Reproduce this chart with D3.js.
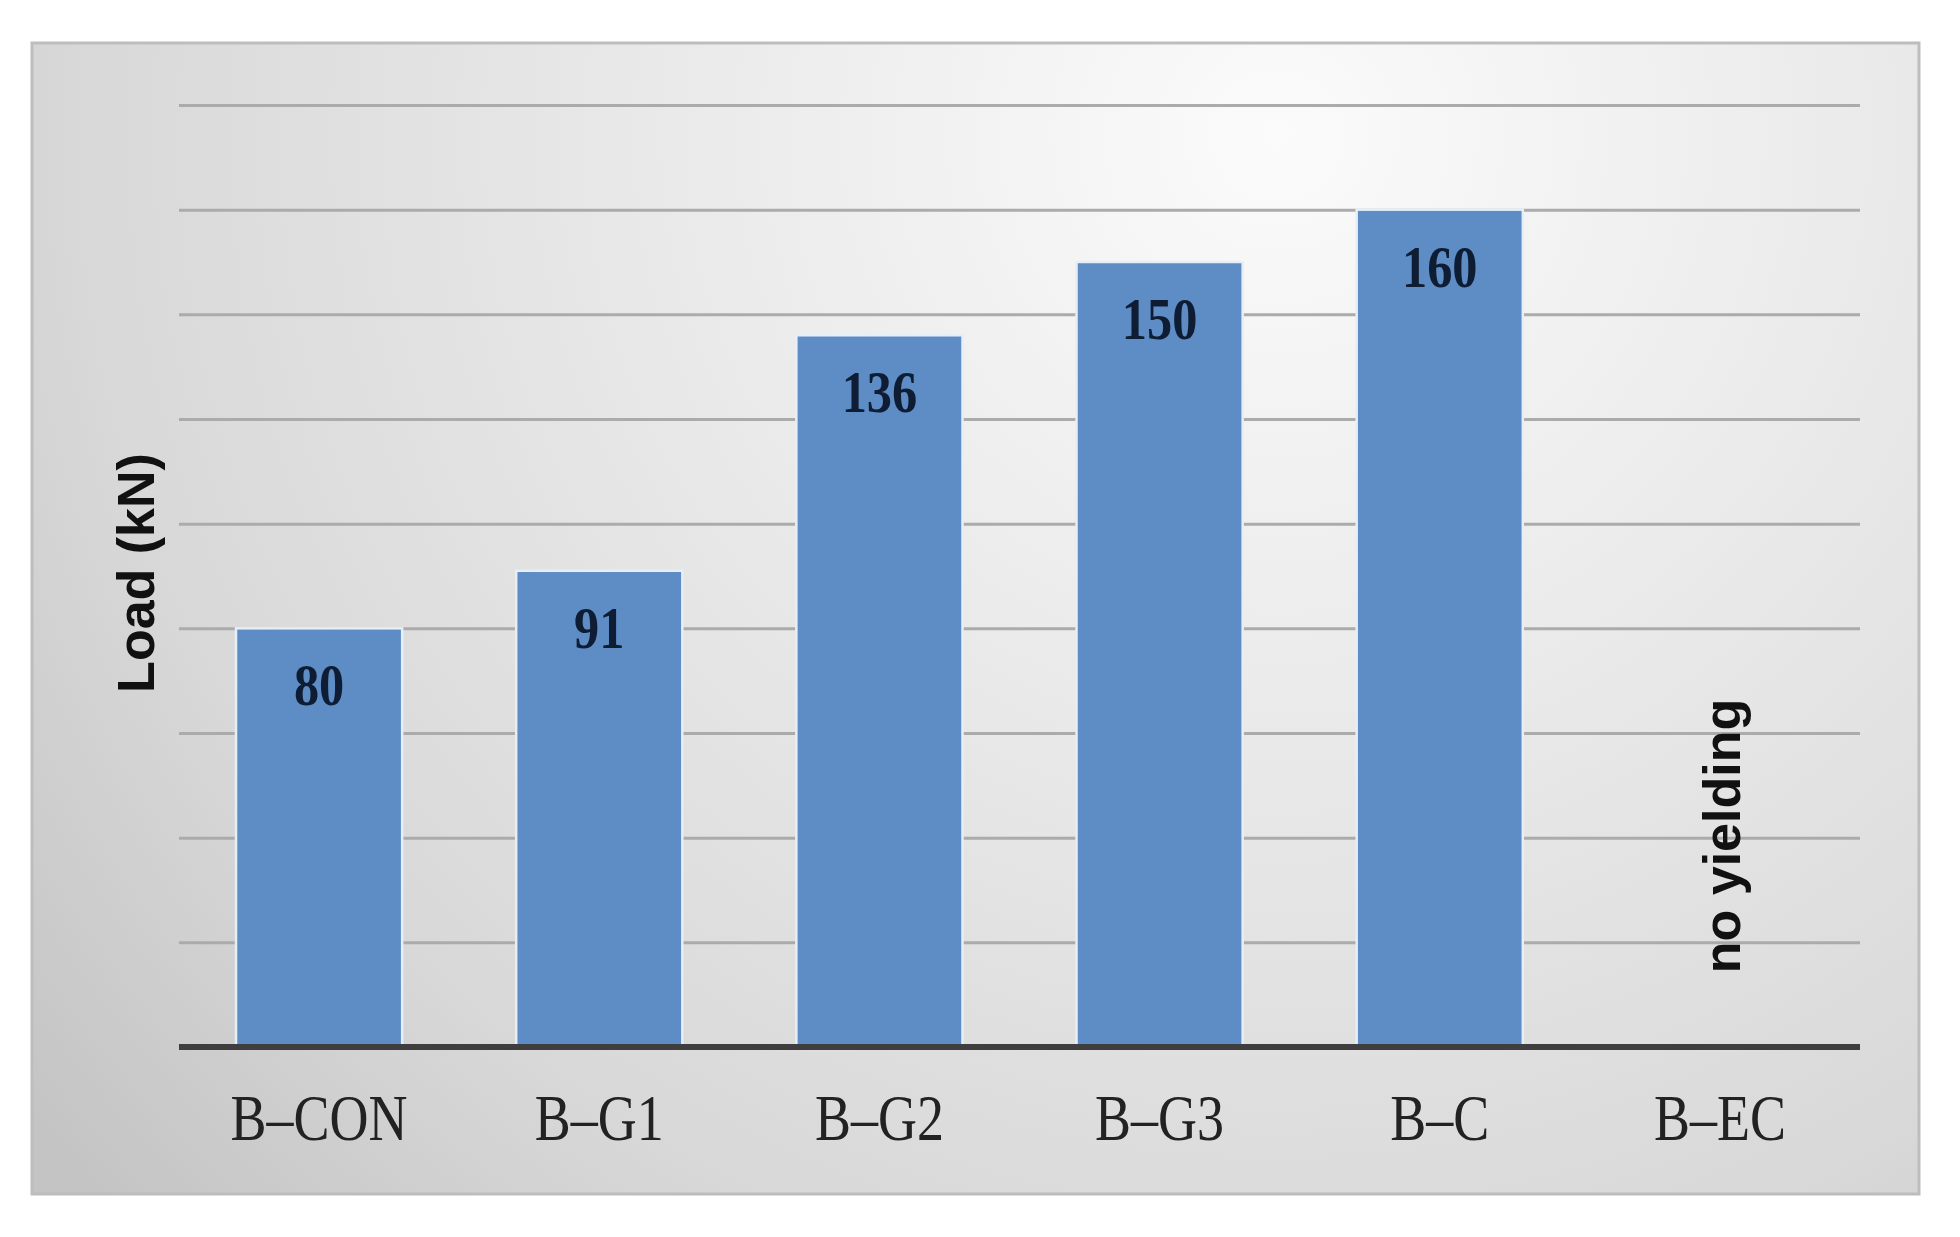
<!DOCTYPE html>
<html lang="en">
<head>
	<meta charset="utf-8">
	<title>Yield load</title>
	<script type="text/javascript" src="https://d3js.org/d3.v7.min.js"></script>
	<style>
		body { margin: 0; background: #fff; }
		.cat text { font-family: "Liberation Serif", "Times New Roman", serif; font-size: 54px; fill: #222; }
		.value { font-family: "Liberation Serif", "Times New Roman", serif; font-size: 53px; font-weight: bold; fill: #0e1c34; }
		.title { font-family: "Liberation Sans", Arial, sans-serif; font-size: 52px; font-weight: bold; fill: #111; }
	</style>
</head>
<body>
	<div id="chart"></div>
	<script type="text/javascript">

		var categories = ["B–CON", "B–G1", "B–G2", "B–G3", "B–C", "B–EC"];
		var loads = [80, 91, 136, 150, 160, null];
		var gridTicks = [20, 40, 60, 80, 100, 120, 140, 160, 180];
		var yTitle = "Load (kN)";
		var note = "no yielding";

		var w = 1960,
		    h = 1237;

		var svg = d3.select("#chart")
			.append("svg")
			.attr("width", w)
			.attr("height", h);

		// panel background
		var defs = svg.append("defs");
		var grad = defs.append("radialGradient")
			.attr("id", "bg")
			.attr("cx", "0.66").attr("cy", "0.08")
			.attr("r", "0.85")
			.attr("gradientTransform", "translate(0.66,0.08) scale(1,1.6) translate(-0.66,-0.08)");
		grad.append("stop").attr("offset", "0").attr("stop-color", "#fbfbfb");
		grad.append("stop").attr("offset", "0.35").attr("stop-color", "#ebebeb");
		grad.append("stop").attr("offset", "0.75").attr("stop-color", "#d8d8d8");
		grad.append("stop").attr("offset", "1").attr("stop-color", "#c4c4c4");

		svg.append("rect")
			.attr("x", 32).attr("y", 43)
			.attr("width", 1887).attr("height", 1151)
			.attr("fill", "url(#bg)")
			.attr("stroke", "#bdbdbd")
			.attr("stroke-width", 3);

		var x = d3.scaleBand()
			.domain(categories)
			.range([179, 1860])
			.paddingInner(0.407)
			.paddingOuter(0.2035);

		var y = d3.scaleLinear()
			.domain([0, 180])
			.range([1047, 105]);

		// gridlines
		var grid = svg.append("g")
			.attr("transform", "translate(179,0)")
			.call(d3.axisLeft(y).tickValues(gridTicks).tickSize(-(1860 - 179)).tickFormat(""));
		grid.select(".domain").remove();
		grid.selectAll("line").attr("stroke", "#ababab").attr("stroke-width", 3);

		// bars
		var data = categories.map(function(c, i) { return {cat: c, v: loads[i]}; });
		var withVal = data.filter(function(d) { return d.v != null; });

		svg.selectAll(".bar")
			.data(withVal)
			.enter()
			.append("rect")
			.attr("class", "bar")
			.attr("x", function(d) { return x(d.cat); })
			.attr("y", function(d) { return y(d.v); })
			.attr("width", x.bandwidth())
			.attr("height", function(d) { return y(0) - y(d.v); })
			.attr("fill", "#5e8dc5")
			.attr("stroke", "#e6eef8")
			.attr("stroke-width", 2.5);

		// value labels (slightly condensed, like the original)
		svg.selectAll(".value")
			.data(withVal)
			.enter()
			.append("text")
			.attr("class", "value")
			.attr("transform", function(d) {
				return "translate(" + (x(d.cat) + x.bandwidth() / 2) + "," + (y(d.v) + 77) + ") scale(0.95,1.1)";
			})
			.attr("text-anchor", "middle")
			.text(function(d) { return d.v; });

		// x axis
		var xa = svg.append("g")
			.attr("class", "cat")
			.attr("transform", "translate(0," + y(0) + ")")
			.call(d3.axisBottom(x).tickSize(0));
		xa.select(".domain").remove();
		xa.selectAll("text")
			.attr("font-size", null).attr("font-family", null).attr("fill", null)
			.attr("y", 0).attr("dy", null)
			.attr("transform", "translate(0,93) scale(1,1.2)");

		svg.append("line")
			.attr("x1", 179).attr("x2", 1860)
			.attr("y1", y(0)).attr("y2", y(0))
			.attr("stroke", "#3e3e3e")
			.attr("stroke-width", 6);

		// y title
		svg.append("text")
			.attr("class", "title")
			.attr("transform", "translate(154,573) rotate(-90)")
			.attr("text-anchor", "middle")
			.text(yTitle);

		// note on the empty column
		var emptyCat = data.filter(function(d) { return d.v == null; })[0].cat;
		svg.append("text")
			.attr("class", "title")
			.attr("transform", "translate(" + (x(emptyCat) + x.bandwidth() / 2 + 20) + ",836) rotate(-90)")
			.attr("text-anchor", "middle")
			.text(note);
	</script>
</body>
</html>
